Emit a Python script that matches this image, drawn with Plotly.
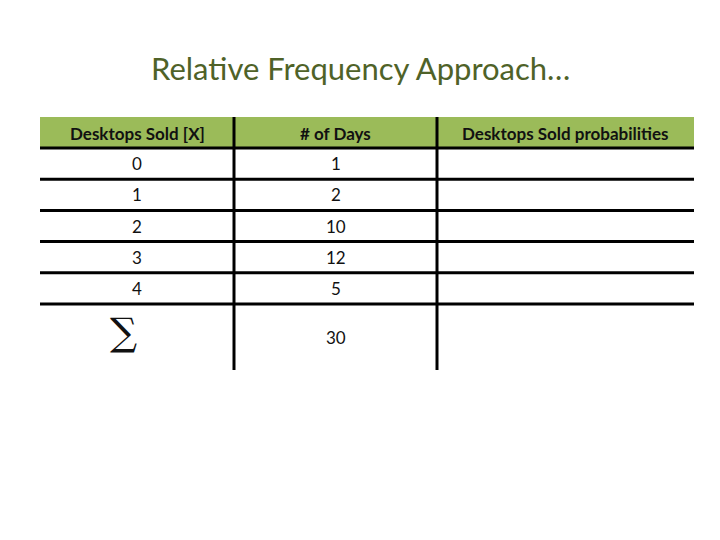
import plotly.graph_objects as go

headers = ["Desktops Sold [X]", "# of Days", "Desktops Sold probabilities"]
desktops_sold = ["0", "1", "2", "3", "4"]
num_days = [1, 2, 10, 12, 5]
total_days = 30

FONT = "Lato, Noto Sans, sans-serif"
GREEN = "#9BBB59"

# layout geometry in pixels (axis = page)
col_edges = [40, 234, 437, 694]
col_mid = [(col_edges[i] + col_edges[i + 1]) / 2 for i in range(3)]
head_top, head_bot = 117, 148
row_h = 31.2
table_bot = 370

fig = go.Figure()
shapes = []
annotations = []

shapes.append(dict(type="rect", x0=col_edges[0], x1=col_edges[3], y0=head_top, y1=head_bot,
                   fillcolor=GREEN, line_width=0, layer="below"))
for i, h in enumerate(headers):
    annotations.append(dict(x=col_mid[i], y=(head_top + head_bot) / 2 + 1, text="<b>" + h + "</b>",
                            showarrow=False, font=dict(size=17, color="#111", family=FONT)))

for r, (x, d) in enumerate(zip(desktops_sold, num_days)):
    y_top = head_bot + r * row_h
    y_c = y_top + row_h / 2
    annotations.append(dict(x=col_mid[0], y=y_c, text=x, showarrow=False,
                            font=dict(size=17, color="#111", family=FONT)))
    annotations.append(dict(x=col_mid[1], y=y_c, text=str(d), showarrow=False,
                            font=dict(size=17, color="#111", family=FONT)))
    shapes.append(dict(type="line", x0=col_edges[0], x1=col_edges[3], y0=y_top, y1=y_top,
                       line=dict(color="black", width=3)))
last = head_bot + len(num_days) * row_h
shapes.append(dict(type="line", x0=col_edges[0], x1=col_edges[3], y0=last, y1=last,
                   line=dict(color="black", width=3)))
annotations.append(dict(x=col_mid[0] - 14, y=(last + table_bot) / 2 - 5, text="∑", showarrow=False,
                        font=dict(size=38, color="#111", family="DejaVu Serif")))
annotations.append(dict(x=col_mid[1], y=(last + table_bot) / 2, text=str(total_days), showarrow=False,
                        font=dict(size=17, color="#111", family=FONT)))

for xe in col_edges[1:3]:
    shapes.append(dict(type="line", x0=xe, x1=xe, y0=head_top, y1=table_bot,
                       line=dict(color="black", width=3)))

annotations.append(dict(x=360, y=68, text="Relative Frequency Approach…", showarrow=False,
                        font=dict(size=31, color="#4F6228", family=FONT)))

# page has an 8px body margin, so shift the ranges to keep pixel positions
fig.update_layout(
    width=720, height=540, margin=dict(l=0, r=0, t=0, b=0),
    paper_bgcolor="white", plot_bgcolor="white",
    xaxis=dict(range=[8, 728], visible=False, fixedrange=True),
    yaxis=dict(range=[548, 8], visible=False, fixedrange=True),
    shapes=shapes, annotations=annotations, showlegend=False,
)
fig.write_html("out.html")
